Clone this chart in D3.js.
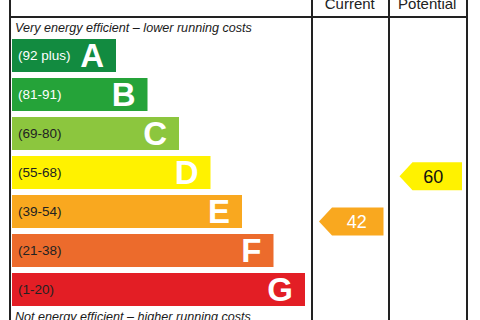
<!DOCTYPE html>
<html><head><meta charset="utf-8">
<script src="https://cdn.jsdelivr.net/npm/d3@7"></script>
<style>html,body{margin:0;padding:0;background:#fff;}svg{display:block;}</style>
</head><body>
<script>
const letters = ["A","B","C","D","E","F","G"];
const rangeLabels = ["(92 plus)","(81-91)","(69-80)","(55-68)","(39-54)","(21-38)","(1-20)"];
const bandMin = [92,81,69,55,39,21,1];
const bandMax = [100,91,80,68,54,38,20];
const colors = ["#128b40","#25a339","#8cc63e","#fff200","#f9a81f","#ec6b2c","#e31e25"];
const labelColors = ["#fff","#fff","#222","#222","#222","#222","#222"];
const columns = ["Current","Potential"];
const ratings = [42, 60];

const W = 480, H = 320;
const svg = d3.select("body").append("svg").attr("width", W).attr("height", H);

const y = d3.scaleBand().domain(letters).range([39, 306]).paddingInner(6/39).paddingOuter(0);
const xEnd = d3.scaleLinear().domain([0, letters.length - 1]).range([116, 305]);
const x0 = 12;
const colX = d3.scaleBand().domain(columns).range([312, 467]);

const font = "'Liberation Sans', Arial, sans-serif";
const lineC = "#222";

// frame lines
svg.append("line").attr("x1",10).attr("x2",10).attr("y1",0).attr("y2",H).attr("stroke",lineC).attr("stroke-width",2);
svg.append("line").attr("x1",9).attr("x2",468).attr("y1",17).attr("y2",17).attr("stroke",lineC).attr("stroke-width",2);
[312, 389, 467].forEach(xx => svg.append("line").attr("x1",xx).attr("x2",xx).attr("y1",0).attr("y2",H).attr("stroke",lineC).attr("stroke-width",2));

// headers
svg.selectAll("text.hdr").data(columns).join("text").attr("class","hdr")
  .attr("x", d => colX(d) + colX.bandwidth()/2 - 1).attr("y", 8.5)
  .attr("text-anchor","middle").attr("font-family",font).attr("font-size",15).attr("fill","#222").text(d => d);

svg.append("text").attr("x",15).attr("y",31.5).attr("font-family",font).attr("font-size",12.6)
  .attr("font-style","italic").attr("fill","#1a1a1a").text("Very energy efficient \u2013 lower running costs");
svg.append("text").attr("x",15).attr("y",321).attr("font-family",font).attr("font-size",12.6)
  .attr("font-style","italic").attr("fill","#1a1a1a").text("Not energy efficient \u2013 higher running costs");

// bars
const g = svg.selectAll("g.band").data(letters).join("g").attr("class","band");
g.append("rect").attr("x", x0).attr("y", d => y(d))
  .attr("width", (d,i) => xEnd(i) - x0).attr("height", y.bandwidth())
  .attr("fill", (d,i) => colors[i]);
g.append("text").attr("x", 18).attr("y", d => y(d) + y.bandwidth()/2).attr("dy","0.35em")
  .attr("font-family",font).attr("font-size",13.5).attr("fill",(d,i)=>labelColors[i]).text((d,i)=>rangeLabels[i]);
g.append("text").attr("x", (d,i) => xEnd(i) - 12).attr("y", d => y(d) + y.bandwidth()/2).attr("dy","0.36em")
  .attr("text-anchor","end").attr("font-family",font).attr("font-size",33).attr("font-weight","bold")
  .attr("fill","#fff").text(d => d);

// rating -> y position within its band
function ratingY(v){
  const i = bandMin.findIndex((m, k) => v >= m && v <= bandMax[k]);
  const s = d3.scaleLinear().domain([bandMin[i], bandMax[i]])
    .range([y(letters[i]) + y.bandwidth(), y(letters[i])]);
  return { y: s(v), i };
}

const ah = 28, tip = 13;
columns.forEach((c, k) => {
  const v = ratings[k];
  const r = ratingY(v);
  const left = colX(c) + (k === 0 ? 7 : 10);
  const right = colX(c) + colX.bandwidth() - (k === 0 ? 6 : 5);
  const cy = r.y;
  const path = d3.path();
  path.moveTo(left, cy);
  path.lineTo(left + tip, cy - ah/2);
  path.lineTo(right, cy - ah/2);
  path.lineTo(right, cy + ah/2);
  path.lineTo(left + tip, cy + ah/2);
  path.closePath();
  svg.append("path").attr("d", path.toString()).attr("fill", colors[r.i]);
  svg.append("text").attr("x", (left + tip + right)/2 + (k===0 ? -1 : -4)).attr("y", cy).attr("dy","0.36em")
    .attr("text-anchor","middle").attr("font-family",font).attr("font-size",18)
    .attr("fill", r.i >= 4 || r.i <= 1 ? "#fff" : "#111").text(v);
});
</script>
</body></html>
